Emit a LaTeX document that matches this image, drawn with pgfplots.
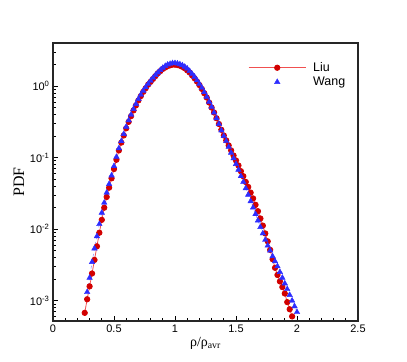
\documentclass[border=0pt]{standalone}
\usepackage{pgfplots}
\usepackage{pgfplotstable}
\pgfplotsset{compat=1.18}
\usepackage{fontspec}
\setmainfont{Liberation Sans}
\newfontfamily\seriffont{Liberation Serif}
\definecolor{liured}{RGB}{210,0,0}
\definecolor{liuline}{RGB}{240,80,80}
\definecolor{wangblue}{RGB}{45,45,255}
\pgfplotstableread{
x y
0.26 6.76e-4
0.28 1.047e-3
0.30 1.585e-3
0.32 2.399e-3
0.34 3.715e-3
0.36 5.754e-3
0.38 8.913e-3
0.40 1.349e-2
0.42 1.995e-2
0.44 2.818e-2
0.46 3.802e-2
0.48 5.129e-2
0.50 6.918e-2
0.52 9.333e-2
0.54 0.1259
0.56 0.1622
0.58 0.2042
0.60 0.2570
0.62 0.3162
0.64 0.3802
0.66 0.4571
0.68 0.5370
0.70 0.6310
0.72 0.7244
0.74 0.8318
0.76 0.9333
0.78 1.047
0.80 1.148
0.82 1.259
0.84 1.380
0.86 1.514
0.88 1.622
0.90 1.738
0.92 1.820
0.94 1.905
0.96 1.950
0.98 1.995
1.00 1.995
1.02 1.972
1.04 1.928
1.06 1.862
1.08 1.778
1.10 1.660
1.12 1.549
1.14 1.413
1.16 1.288
1.18 1.161
1.20 1.035
1.22 0.912
1.24 0.794
1.26 0.692
1.28 0.589
1.30 0.501
1.32 0.427
1.34 0.355
1.36 0.295
1.38 0.245
1.40 0.204
1.42 0.174
1.44 0.148
1.46 0.126
1.48 0.107
1.50 0.0912
1.52 0.0776
1.54 0.0646
1.56 0.0550
1.58 0.0457
1.60 0.0389
1.62 0.0324
1.64 0.0269
1.66 0.0219
1.68 0.0178
1.70 0.0141
1.72 0.0112
1.74 8.71e-3
1.76 6.76e-3
1.78 5.13e-3
1.80 3.80e-3
1.82 2.88e-3
1.84 2.29e-3
1.86 1.86e-3
1.88 1.55e-3
1.90 1.26e-3
1.92 9.55e-4
1.94 7.59e-4
1.96 6.03e-4
}\liudata
\pgfplotstableread{
x y
0.28 1.318e-3
0.30 2.089e-3
0.32 3.467e-3
0.34 5.370e-3
0.36 7.943e-3
0.38 1.175e-2
0.40 1.698e-2
0.42 2.344e-2
0.44 3.236e-2
0.46 4.266e-2
0.48 5.623e-2
0.50 7.586e-2
0.52 0.1023
0.54 0.1349
0.56 0.1698
0.58 0.2138
0.60 0.2692
0.62 0.3311
0.64 0.3981
0.66 0.4786
0.68 0.5623
0.70 0.6607
0.72 0.7586
0.74 0.861
0.76 0.966
0.78 1.072
0.80 1.189
0.82 1.303
0.84 1.429
0.86 1.549
0.88 1.679
0.90 1.799
0.92 1.905
0.94 1.995
0.96 2.042
0.98 2.089
1.00 2.089
1.02 2.065
1.04 2.018
1.06 1.950
1.08 1.862
1.10 1.758
1.12 1.622
1.14 1.479
1.16 1.349
1.18 1.202
1.20 1.072
1.22 0.944
1.24 0.822
1.26 0.708
1.28 0.603
1.30 0.513
1.32 0.427
1.34 0.355
1.36 0.295
1.38 0.240
1.40 0.200
1.42 0.170
1.44 0.141
1.46 0.117
1.48 0.0977
1.50 0.0813
1.52 0.0676
1.54 0.0550
1.56 0.0457
1.58 0.0372
1.60 0.0302
1.62 0.0245
1.64 0.0200
1.66 0.0162
1.68 0.0132
1.70 0.0107
1.72 8.71e-3
1.74 7.08e-3
1.76 5.89e-3
1.78 5.01e-3
1.80 4.17e-3
1.82 3.55e-3
1.84 3.02e-3
1.86 2.51e-3
1.88 2.09e-3
1.90 1.74e-3
1.92 1.45e-3
1.94 1.20e-3
1.96 1.00e-3
1.98 8.32e-4
2.00 6.92e-4
}\wangdata
\begin{document}
\begin{tikzpicture}
\path (-53bp,-41bp) rectangle (354bp,321bp);
\begin{axis}[
  at={(0,0)}, anchor=south west,
  scale only axis, width=305bp, height=278bp,
  xmin=0, xmax=2.5, ymin=5.2e-4, ymax=4,
  ymode=log,
  xtick={0,0.5,1,1.5,2,2.5}, xticklabels={0,0.5,1,1.5,2,2.5},
  minor xtick={0.1,0.2,0.3,0.4,0.6,0.7,0.8,0.9,1.1,1.2,1.3,1.4,1.6,1.7,1.8,1.9,2.1,2.2,2.3,2.4},
  ytick={1e-3,1e-2,1e-1,1},
  yticklabels={10\textsuperscript{-3},10\textsuperscript{-2},10\textsuperscript{-1},10\textsuperscript{0}},
  minor ytick={6e-4,7e-4,8e-4,9e-4,2e-3,3e-3,4e-3,5e-3,6e-3,7e-3,8e-3,9e-3,2e-2,3e-2,4e-2,5e-2,6e-2,7e-2,8e-2,9e-2,0.2,0.3,0.4,0.5,0.6,0.7,0.8,0.9,2,3},
  tick align=inside, xtick pos=left, ytick pos=left,
  major tick length=5bp, minor tick length=3bp,
  axis line style={line width=1.2bp, black!85},
  every tick/.style={black, line width=0.8bp},
  tick label style={font=\fontsize{11}{13}\selectfont},
  xlabel={\seriffont ρ/ρ\textsubscript{avr}}, ylabel={\seriffont PDF},
  xlabel style={font=\fontsize{14}{16}\selectfont, yshift=2bp},
  ylabel style={font=\fontsize{16}{18}\selectfont, yshift=-1bp},
  legend style={draw=none, fill=none, at={(0.63,0.945)}, anchor=north west,
    font=\fontsize{12.5}{14}\selectfont, row sep=0bp,
    /tikz/every odd column/.append style={column sep=5bp}},
  legend cell align=left,
  legend image code/.code={\draw[mark repeat=2,mark phase=2,#1] plot coordinates {(0bp,0bp) (28.5bp,0bp) (57bp,0bp)};},
]
\addplot[color=liuline, line width=0.8bp, mark=*, mark size=2.7bp,
  mark options={draw=liured, fill=liured, solid},
  legend image code/.code={\draw[liuline, line width=0.8bp] (0bp,0bp) -- (57bp,0bp);
    \fill[liured] (28.5bp,0bp) circle (2.7bp);}] table[x=x,y=y] {\liudata};
\addlegendentry{Liu}
\addplot[color=wangblue!70!white, line width=0.4bp, dashed, forget plot] table[x=x,y=y] {\wangdata};
\addplot[only marks, mark=triangle*, mark size=3.2bp, color=wangblue,
  mark options={draw=wangblue, fill=wangblue}] table[x=x,y=y] {\wangdata};
\addlegendentry{Wang}
\end{axis}
\end{tikzpicture}
\end{document}
